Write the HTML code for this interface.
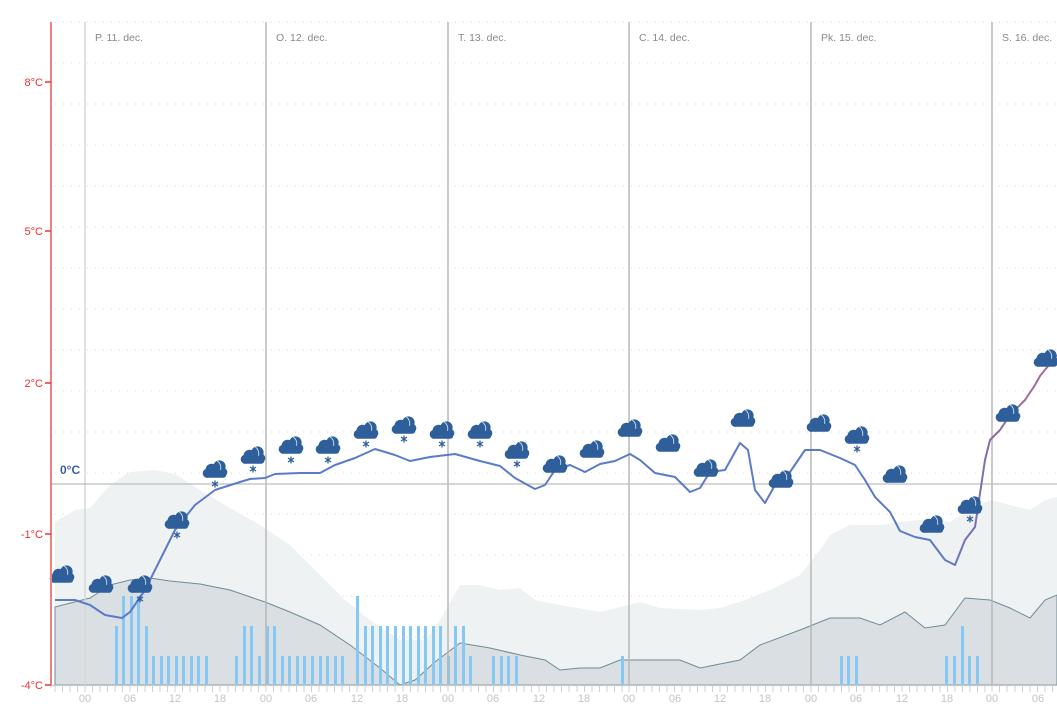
<!DOCTYPE html>
<html><head><meta charset="utf-8"><style>
body{margin:0;background:#fff;}
svg{display:block;font-family:"Liberation Sans",sans-serif;}
</style></head><body>
<svg width="1057" height="718" viewBox="0 0 1057 718" xmlns="http://www.w3.org/2000/svg">
<defs>
<g id="cl" transform="scale(1.12)">
<circle cx="4" cy="-4" r="5.5" fill="#2e5f9a"/>
<circle cx="-3" cy="-1" r="5.5" fill="#2e5f9a"/>
<circle cx="-7" cy="2" r="4" fill="#2e5f9a"/>
<circle cx="7" cy="1" r="4" fill="#2e5f9a"/>
<rect x="-10" y="1" width="20" height="5" rx="2.5" fill="#2e5f9a"/>
<path d="M2 -9 Q6 -6 5 -1" stroke="#cfdbe8" stroke-width="0.8" fill="none"/>
</g>
<g id="sn" stroke="#2e5f9a" stroke-width="1.3">
<line x1="0" y1="-3.5" x2="0" y2="3.5"/><line x1="-3" y1="-2" x2="3" y2="2"/><line x1="-3" y1="2" x2="3" y2="-2"/>
</g>
<linearGradient id="tg" x1="0" x2="1" y1="0" y2="0">
<stop offset="0.88" stop-color="#5b7bc9"/><stop offset="0.94" stop-color="#8a6aa8"/><stop offset="1" stop-color="#b06a98"/>
</linearGradient>
</defs>
<g stroke="#d8d8d8" stroke-width="1" stroke-dasharray="1,7">
<line x1="55" x2="1057" y1="22" y2="22"/><line x1="55" x2="1057" y1="63" y2="63"/><line x1="55" x2="1057" y1="104" y2="104"/><line x1="55" x2="1057" y1="145" y2="145"/><line x1="55" x2="1057" y1="186" y2="186"/><line x1="55" x2="1057" y1="227" y2="227"/><line x1="55" x2="1057" y1="268" y2="268"/><line x1="55" x2="1057" y1="309" y2="309"/><line x1="55" x2="1057" y1="350" y2="350"/><line x1="55" x2="1057" y1="391" y2="391"/><line x1="55" x2="1057" y1="432" y2="432"/><line x1="55" x2="1057" y1="473" y2="473"/><line x1="55" x2="1057" y1="514" y2="514"/><line x1="55" x2="1057" y1="555" y2="555"/><line x1="55" x2="1057" y1="596" y2="596"/><line x1="55" x2="1057" y1="637" y2="637"/>
</g>
<path fill="#eef2f3" d="M55 685 L55 522 L75 510 L90 508 L110 485 L130 472 L155 470 L175 474 L200 490 L230 508 L260 525 L290 545 L310 565 L325 580 L345 600 L370 620 L400 640 L425 640 L440 620 L460 585 L480 585 L500 590 L520 588 L535 600 L560 605 L600 612 L640 602 L660 608 L700 610 L720 608 L745 600 L770 590 L800 575 L820 550 L830 535 L850 525 L880 525 L900 522 L920 520 L950 522 L970 510 L990 500 L1010 505 L1030 510 L1045 500 L1057 497 L1057 685 Z"/>
<path fill="#d9dfe2" stroke="#6e8c96" stroke-width="1" d="M55 685 L55 607 L90 598 L110 585 L130 580 L150 578 L170 581 L200 584 L230 590 L265 602 L290 612 L320 625 L350 645 L380 668 L400 685 L415 680 L435 662 L460 643 L490 648 L520 655 L545 660 L560 670 L580 668 L600 668 L620 660 L680 660 L700 668 L740 660 L760 645 L800 630 L830 618 L860 618 L880 625 L905 612 L925 628 L945 625 L965 598 L990 600 L1010 608 L1030 618 L1045 600 L1057 595 L1057 685 Z"/>
<g fill="#86c8f4">
<rect x="115" y="626" width="3" height="59"/><rect x="122" y="596" width="3" height="89"/><rect x="130" y="596" width="3" height="89"/><rect x="137" y="596" width="3" height="89"/><rect x="145" y="626" width="3" height="59"/>
<rect x="152" y="656" width="3" height="29"/><rect x="160" y="656" width="3" height="29"/><rect x="167" y="656" width="3" height="29"/><rect x="175" y="656" width="3" height="29"/><rect x="182" y="656" width="3" height="29"/><rect x="190" y="656" width="3" height="29"/><rect x="197" y="656" width="3" height="29"/><rect x="205" y="656" width="3" height="29"/>
<rect x="235" y="656" width="3" height="29"/><rect x="243" y="626" width="3" height="59"/><rect x="250" y="626" width="3" height="59"/><rect x="258" y="656" width="3" height="29"/><rect x="266" y="626" width="3" height="59"/><rect x="273" y="626" width="3" height="59"/>
<rect x="281" y="656" width="3" height="29"/><rect x="288" y="656" width="3" height="29"/><rect x="296" y="656" width="3" height="29"/><rect x="303" y="656" width="3" height="29"/><rect x="311" y="656" width="3" height="29"/><rect x="319" y="656" width="3" height="29"/><rect x="326" y="656" width="3" height="29"/><rect x="334" y="656" width="3" height="29"/><rect x="341" y="656" width="3" height="29"/>
<rect x="356" y="596" width="3" height="89"/><rect x="364" y="626" width="3" height="59"/><rect x="371" y="626" width="3" height="59"/><rect x="379" y="626" width="3" height="59"/><rect x="386" y="626" width="3" height="59"/><rect x="394" y="626" width="3" height="59"/><rect x="402" y="626" width="3" height="59"/><rect x="409" y="626" width="3" height="59"/><rect x="417" y="626" width="3" height="59"/><rect x="424" y="626" width="3" height="59"/><rect x="432" y="626" width="3" height="59"/><rect x="439" y="626" width="3" height="59"/>
<rect x="447" y="656" width="3" height="29"/><rect x="454" y="626" width="3" height="59"/><rect x="462" y="626" width="3" height="59"/><rect x="469" y="656" width="3" height="29"/>
<rect x="492" y="656" width="3" height="29"/><rect x="500" y="656" width="3" height="29"/><rect x="507" y="656" width="3" height="29"/><rect x="515" y="656" width="3" height="29"/>
<rect x="621" y="656" width="3" height="29"/>
<rect x="840" y="656" width="3" height="29"/><rect x="847" y="656" width="3" height="29"/><rect x="855" y="656" width="3" height="29"/>
<rect x="945" y="656" width="3" height="29"/><rect x="953" y="656" width="3" height="29"/><rect x="961" y="626" width="3" height="59"/><rect x="968" y="656" width="3" height="29"/><rect x="976" y="656" width="3" height="29"/>
</g>
<g stroke-width="1.5">
<line x1="85" x2="85" y1="22" y2="685" stroke="#d6d6d6"/>
<line x1="266" x2="266" y1="22" y2="685" stroke="#b8b8b8"/>
<line x1="448" x2="448" y1="22" y2="685" stroke="#b8b8b8"/>
<line x1="629" x2="629" y1="22" y2="685" stroke="#b8b8b8"/>
<line x1="811" x2="811" y1="22" y2="685" stroke="#b8b8b8"/>
<line x1="992" x2="992" y1="22" y2="685" stroke="#b8b8b8"/>
</g>
<g font-size="10.5" fill="#888">
<text x="95" y="41">P. 11. dec.</text><text x="276" y="41">O. 12. dec.</text><text x="458" y="41">T. 13. dec.</text><text x="639" y="41">C. 14. dec.</text><text x="821" y="41">Pk. 15. dec.</text><text x="1002" y="41">S. 16. dec.</text>
</g>
<line x1="51" x2="1057" y1="484" y2="484" stroke="#bdbdbd" stroke-width="1.3"/>
<text x="60" y="474" font-size="12" font-weight="bold" fill="#3d5fa8">0°C</text>
<polyline fill="none" stroke="url(#tg)" stroke-width="2" stroke-linejoin="round" points="55,600 75,600 90,605 105,615 122,618 130,612 145,590 160,560 175,530 195,505 215,490 240,482 250,479 265,478 275,474 300,473 320,473 335,465 355,458 375,449 395,455 410,461 430,457 455,454 480,461 500,466 515,478 535,489 545,485 555,470 570,465 585,472 600,464 615,461 630,454 640,460 655,473 675,477 690,492 700,488 710,472 725,470 740,443 748,450 755,490 765,503 775,485 790,472 805,450 820,450 840,458 855,465 865,480 875,497 890,512 900,531 915,537 930,540 945,560 955,565 965,540 975,527 985,460 990,440 1000,430 1010,415 1025,400 1035,385 1040,376 1057,355"/>
<use href="#cl" x="62" y="576"/><use href="#cl" x="101" y="586"/><use href="#cl" x="140" y="586"/><use href="#cl" x="177" y="522"/><use href="#cl" x="215" y="471"/><use href="#cl" x="253" y="457"/><use href="#cl" x="291" y="447"/><use href="#cl" x="328" y="447"/><use href="#cl" x="366" y="432"/><use href="#cl" x="404" y="427"/><use href="#cl" x="442" y="432"/><use href="#cl" x="480" y="432"/><use href="#cl" x="517" y="452"/><use href="#cl" x="555" y="466"/><use href="#cl" x="592" y="451"/><use href="#cl" x="630" y="430"/><use href="#cl" x="668" y="445"/><use href="#cl" x="706" y="470"/><use href="#cl" x="743" y="420"/><use href="#cl" x="781" y="481"/><use href="#cl" x="819" y="425"/><use href="#cl" x="857" y="437"/><use href="#cl" x="895" y="476"/><use href="#cl" x="932" y="526"/><use href="#cl" x="970" y="507"/><use href="#cl" x="1008" y="415"/><use href="#cl" x="1046" y="360"/>
<use href="#sn" x="140" y="599"/><use href="#sn" x="177" y="535"/><use href="#sn" x="215" y="484"/><use href="#sn" x="253" y="469"/><use href="#sn" x="291" y="460"/><use href="#sn" x="328" y="460"/><use href="#sn" x="366" y="444"/><use href="#sn" x="404" y="439"/><use href="#sn" x="442" y="444"/><use href="#sn" x="480" y="444"/><use href="#sn" x="517" y="464"/><use href="#sn" x="857" y="449"/><use href="#sn" x="970" y="519"/>
<line x1="51" x2="51" y1="22" y2="686" stroke="#f08080" stroke-width="2"/>
<g stroke="#f03030" stroke-width="1.5"><line x1="45" x2="51" y1="82" y2="82"/><line x1="45" x2="51" y1="231" y2="231"/><line x1="45" x2="51" y1="383" y2="383"/><line x1="45" x2="51" y1="534" y2="534"/><line x1="45" x2="51" y1="685" y2="685"/></g>
<g font-size="11" fill="#f03030" text-anchor="end"><text x="43" y="86">8°C</text><text x="43" y="235">5°C</text><text x="43" y="387">2°C</text><text x="43" y="538">-1°C</text><text x="43" y="689">-4°C</text></g>
<line x1="51" x2="1057" y1="685.5" y2="685.5" stroke="#c8c8c8" stroke-width="1.3"/>
<path stroke="#d0d0d0" stroke-width="1" d="M55 686v6M62.5 686v6M70 686v6M77.5 686v6M85 686v6M92.5 686v6M100 686v6M107.5 686v6M115 686v6M122.5 686v6M130 686v6M137.5 686v6M145 686v6M152.5 686v6M160 686v6M167.5 686v6M175 686v6M182.5 686v6M190 686v6M197.5 686v6M205 686v6M212.5 686v6M220 686v6M228 686v6M235.5 686v6M243 686v6M251 686v6M258.5 686v6M266 686v6M273.5 686v6M281 686v6M289 686v6M296.5 686v6M304 686v6M311.5 686v6M319 686v6M327 686v6M334.5 686v6M342 686v6M349.5 686v6M357 686v6M365 686v6M372.5 686v6M380 686v6M387.5 686v6M395 686v6M403 686v6M410.5 686v6M418 686v6M425.5 686v6M433 686v6M440.5 686v6M448 686v6M455.5 686v6M463 686v6M471 686v6M478.5 686v6M486 686v6M493.5 686v6M501 686v6M509 686v6M516.5 686v6M524 686v6M531.5 686v6M539 686v6M546.5 686v6M554 686v6M561.5 686v6M569 686v6M577 686v6M584.5 686v6M592 686v6M599.5 686v6M607 686v6M614.5 686v6M622 686v6M629 686v6M636.5 686v6M644 686v6M652 686v6M659.5 686v6M667 686v6M674.5 686v6M682 686v6M690 686v6M697.5 686v6M705 686v6M712.5 686v6M720 686v6M727.5 686v6M735 686v6M743 686v6M750.5 686v6M758 686v6M765.5 686v6M773 686v6M781 686v6M788.5 686v6M796 686v6M803.5 686v6M811 686v6M818.5 686v6M826 686v6M834 686v6M841.5 686v6M849 686v6M856.5 686v6M864 686v6M872 686v6M879.5 686v6M887 686v6M894.5 686v6M902 686v6M909.5 686v6M917 686v6M925 686v6M932.5 686v6M940 686v6M947.5 686v6M955 686v6M962.5 686v6M970 686v6M977.5 686v6M985 686v6M992 686v6M999.5 686v6M1007 686v6M1015 686v6M1022.5 686v6M1030 686v6M1037.5 686v6M1045 686v6M1052.5 686v6"/>
<g font-size="11" fill="#c4c4c4" text-anchor="middle">
<text x="85" y="702">00</text><text x="130" y="702">06</text><text x="175" y="702">12</text><text x="220" y="702">18</text>
<text x="266" y="702">00</text><text x="311" y="702">06</text><text x="357" y="702">12</text><text x="402" y="702">18</text>
<text x="448" y="702">00</text><text x="493" y="702">06</text><text x="539" y="702">12</text><text x="584" y="702">18</text>
<text x="629" y="702">00</text><text x="675" y="702">06</text><text x="720" y="702">12</text><text x="765" y="702">18</text>
<text x="811" y="702">00</text><text x="856" y="702">06</text><text x="902" y="702">12</text><text x="947" y="702">18</text>
<text x="992" y="702">00</text><text x="1038" y="702">06</text>
</g>
</svg>
</body></html>
